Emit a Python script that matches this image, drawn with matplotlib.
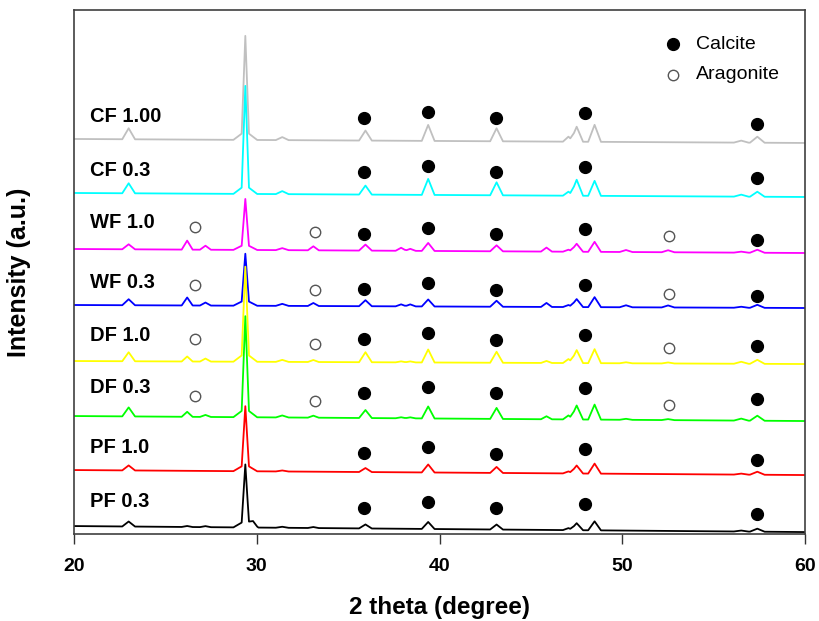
import numpy as np
import matplotlib
matplotlib.use("Agg")
import matplotlib.pyplot as plt

plt.rcParams['font.family'] = ['Liberation Sans', 'DejaVu Sans']

# sample names, bottom to top
names = ["PF 0.3", "PF 1.0", "DF 0.3", "DF 1.0", "WF 0.3", "WF 1.0", "CF 0.3", "CF 1.00"]
colors = ["#000000", "#ff0000", "#00ff00", "#ffff00", "#0000ff", "#ff00ff", "#00ffff", "#c0c0c0"]

# baseline (stack offset) at 2theta = 20 and 60
base_left = [8, 64, 118, 173, 229, 285, 341, 395]
base_right = [2, 59, 113, 170, 226, 281, 337, 391]

# peak positions (2 theta), half base widths, heights per sample (same order as names)
peak_pos = [23.0, 26.2, 27.2, 29.38, 29.38, 29.8, 31.4, 33.1, 35.95, 37.9, 38.4,
            39.38, 43.12, 45.85, 47.05, 47.5, 48.48, 50.2, 52.5, 56.5, 57.38]
peak_hw = [0.35, 0.3, 0.3, 0.2, 0.65, 0.3, 0.35, 0.3, 0.35, 0.3, 0.3,
           0.35, 0.35, 0.3, 0.3, 0.35, 0.35, 0.35, 0.35, 0.4, 0.4]
heights = {
    "PF 0.3":  [5, 1, 1, 56, 7, 4, 1, 1, 4, 0, 0, 7, 5, 0, 2, 7, 9, 0, 0, 1, 3],
    "PF 1.0":  [5, 0, 0, 58, 7, 0, 1, 0, 4, 0, 0, 8, 6, 0, 2, 8, 10, 0, 0, 1, 3],
    "DF 0.3":  [9, 5, 2, 92, 9, 0, 2, 2, 8, 1, 1, 12, 11, 3, 4, 14, 15, 1, 1, 2, 5],
    "DF 1.0":  [9, 5, 3, 86, 9, 0, 2, 2, 10, 1, 1, 13, 11, 2, 4, 13, 14, 1, 1, 2, 4],
    "WF 0.3":  [6, 8, 3, 46, 6, 0, 2, 3, 6, 2, 2, 7, 6, 4, 2, 8, 10, 2, 2, 1, 3],
    "WF 1.0":  [5, 9, 4, 45, 6, 0, 2, 4, 6, 3, 2, 8, 6, 4, 2, 8, 10, 2, 2, 1, 3],
    "CF 0.3":  [10, 0, 0, 99, 9, 0, 3, 0, 9, 0, 0, 16, 13, 0, 4, 16, 15, 0, 0, 2, 5],
    "CF 1.00": [11, 0, 0, 95, 9, 0, 3, 0, 10, 0, 0, 16, 13, 0, 5, 15, 17, 0, 0, 2, 6],
}

# phase markers
calcite_x = [35.85, 39.35, 43.1, 47.95, 57.35]
calcite_y = {
    "PF 0.3":  [26, 32, 26, 30, 20],
    "PF 1.0":  [81, 87, 80, 85, 74],
    "DF 0.3":  [141, 147, 141, 146, 135],
    "DF 1.0":  [195, 201, 194, 199, 188],
    "WF 0.3":  [245, 251, 244, 249, 238],
    "WF 1.0":  [300, 306, 300, 305, 294],
    "CF 0.3":  [362, 368, 362, 367, 356],
    "CF 1.00": [416, 422, 416, 421, 410],
}
aragonite_x = [26.65, 33.2, 52.55]
aragonite_y = {
    "DF 0.3": [138, 133, 129],
    "DF 1.0": [195, 190, 186],
    "WF 0.3": [249, 244, 240],
    "WF 1.0": [307, 302, 298],
}
label_y = [33, 87, 147, 199, 252, 311, 363, 417]


def pattern(i):
    # piecewise linear profile: baseline plus triangular peaks
    xs = [20.0, 60.0]
    for p, w in zip(peak_pos, peak_hw):
        xs += [p - w, p, p + w]
    xs = np.array(sorted(set(xs)))
    ys = base_left[i] + (base_right[i] - base_left[i]) * (xs - 20) / 40.0
    for p, w, h in zip(peak_pos, peak_hw, heights[names[i]]):
        ys = ys + h * np.clip(1 - np.abs(xs - p) / w, 0, None)
    return xs, ys


fig = plt.figure(figsize=(8.2, 6.21), dpi=100)
ax = fig.add_axes([0.090, 0.140, 0.892, 0.844])

for i in reversed(range(len(names))):
    xs, ys = pattern(i)
    ax.plot(xs, ys, color=colors[i], lw=1.3)

for i, n in enumerate(names):
    ax.plot(calcite_x, calcite_y[n], 'o', color='black', ms=8.5, ls='none')
    if n in aragonite_y:
        ax.plot(aragonite_x, aragonite_y[n], 'o', mfc='white', mec='#555555',
                mew=1.0, ms=7.5, ls='none')
    ax.text(20.9, label_y[i], n, fontsize=14.5, fontweight='bold', va='center', ha='left')

# legend
ax.plot([0.819], [0.935], 'o', color='black', ms=8.5, transform=ax.transAxes)
ax.plot([0.819], [0.876], 'o', mfc='white', mec='#555555', mew=1.0, ms=7.5,
        transform=ax.transAxes)
ax.text(0.851, 0.935, "Calcite", fontsize=14, va='center', transform=ax.transAxes)
ax.text(0.851, 0.876, "Aragonite", fontsize=14, va='center', transform=ax.transAxes)

ax.set_xlim(20, 60)
ax.set_ylim(0, 524)
ax.set_xticks([20, 30, 40, 50, 60])
ax.set_yticks([])
ax.tick_params(axis='x', direction='out', length=7, width=1.0, pad=10,
               labelsize=14, colors='#333333')
for lab in ax.get_xticklabels():
    lab.set_fontweight('bold')
    lab.set_color('black')
for s in ax.spines.values():
    s.set_color('#404040')
    s.set_linewidth(1.2)

ax.set_xlabel("2 theta (degree)", fontsize=17.5, fontweight='bold')
ax.set_ylabel("Intensity (a.u.)", fontsize=18, fontweight='bold')
ax.xaxis.set_label_coords(0.5, -0.118)
ax.yaxis.set_label_coords(-0.058, 0.5)

fig.savefig("out.png", dpi=100)
